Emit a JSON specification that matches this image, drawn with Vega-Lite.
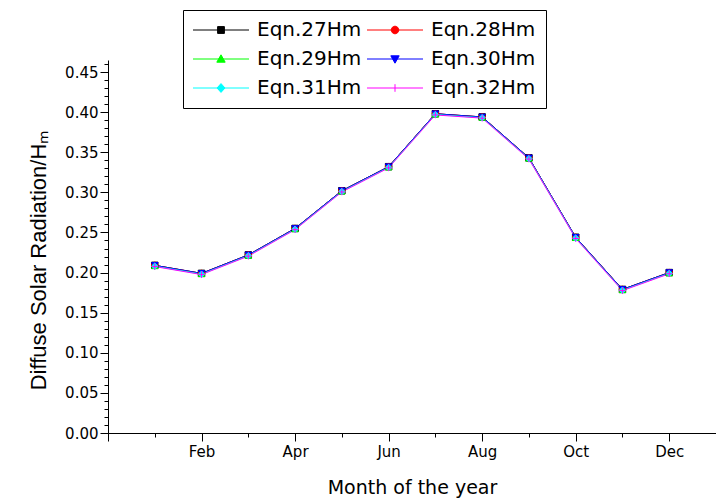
{
  "$schema": "https://vega.github.io/schema/vega-lite/v6.json",
  "width": 608,
  "height": 373,
  "autosize": "none",
  "padding": {"left": 108, "top": 60, "right": 0, "bottom": 67},
  "background": "white",
  "config": {
    "view": {"stroke": null},
    "axis": {
      "grid": false,
      "domainColor": "black",
      "tickColor": "black",
      "labelColor": "black",
      "titleColor": "black",
      "labelFont": "DejaVu Sans",
      "titleFont": "DejaVu Sans",
      "titleFontWeight": "normal",
      "domainWidth": 1,
      "tickWidth": 1
    }
  },
  "data": {
    "values": [
      {"month": 1, "name": "Jan", "series": "Eqn.27Hm", "value": 0.209},
      {"month": 2, "name": "Feb", "series": "Eqn.27Hm", "value": 0.199},
      {"month": 3, "name": "Mar", "series": "Eqn.27Hm", "value": 0.222},
      {"month": 4, "name": "Apr", "series": "Eqn.27Hm", "value": 0.255},
      {"month": 5, "name": "May", "series": "Eqn.27Hm", "value": 0.302},
      {"month": 6, "name": "Jun", "series": "Eqn.27Hm", "value": 0.332},
      {"month": 7, "name": "Jul", "series": "Eqn.27Hm", "value": 0.398},
      {"month": 8, "name": "Aug", "series": "Eqn.27Hm", "value": 0.394},
      {"month": 9, "name": "Sep", "series": "Eqn.27Hm", "value": 0.343},
      {"month": 10, "name": "Oct", "series": "Eqn.27Hm", "value": 0.244},
      {"month": 11, "name": "Nov", "series": "Eqn.27Hm", "value": 0.179},
      {"month": 12, "name": "Dec", "series": "Eqn.27Hm", "value": 0.200},
      {"month": 1, "name": "Jan", "series": "Eqn.28Hm", "value": 0.209},
      {"month": 2, "name": "Feb", "series": "Eqn.28Hm", "value": 0.199},
      {"month": 3, "name": "Mar", "series": "Eqn.28Hm", "value": 0.222},
      {"month": 4, "name": "Apr", "series": "Eqn.28Hm", "value": 0.255},
      {"month": 5, "name": "May", "series": "Eqn.28Hm", "value": 0.302},
      {"month": 6, "name": "Jun", "series": "Eqn.28Hm", "value": 0.332},
      {"month": 7, "name": "Jul", "series": "Eqn.28Hm", "value": 0.398},
      {"month": 8, "name": "Aug", "series": "Eqn.28Hm", "value": 0.394},
      {"month": 9, "name": "Sep", "series": "Eqn.28Hm", "value": 0.343},
      {"month": 10, "name": "Oct", "series": "Eqn.28Hm", "value": 0.244},
      {"month": 11, "name": "Nov", "series": "Eqn.28Hm", "value": 0.179},
      {"month": 12, "name": "Dec", "series": "Eqn.28Hm", "value": 0.200},
      {"month": 1, "name": "Jan", "series": "Eqn.29Hm", "value": 0.2085},
      {"month": 2, "name": "Feb", "series": "Eqn.29Hm", "value": 0.1985},
      {"month": 3, "name": "Mar", "series": "Eqn.29Hm", "value": 0.2215},
      {"month": 4, "name": "Apr", "series": "Eqn.29Hm", "value": 0.2545},
      {"month": 5, "name": "May", "series": "Eqn.29Hm", "value": 0.3015},
      {"month": 6, "name": "Jun", "series": "Eqn.29Hm", "value": 0.3315},
      {"month": 7, "name": "Jul", "series": "Eqn.29Hm", "value": 0.3975},
      {"month": 8, "name": "Aug", "series": "Eqn.29Hm", "value": 0.3935},
      {"month": 9, "name": "Sep", "series": "Eqn.29Hm", "value": 0.3425},
      {"month": 10, "name": "Oct", "series": "Eqn.29Hm", "value": 0.2435},
      {"month": 11, "name": "Nov", "series": "Eqn.29Hm", "value": 0.1785},
      {"month": 12, "name": "Dec", "series": "Eqn.29Hm", "value": 0.1995},
      {"month": 1, "name": "Jan", "series": "Eqn.30Hm", "value": 0.209},
      {"month": 2, "name": "Feb", "series": "Eqn.30Hm", "value": 0.199},
      {"month": 3, "name": "Mar", "series": "Eqn.30Hm", "value": 0.222},
      {"month": 4, "name": "Apr", "series": "Eqn.30Hm", "value": 0.255},
      {"month": 5, "name": "May", "series": "Eqn.30Hm", "value": 0.302},
      {"month": 6, "name": "Jun", "series": "Eqn.30Hm", "value": 0.332},
      {"month": 7, "name": "Jul", "series": "Eqn.30Hm", "value": 0.398},
      {"month": 8, "name": "Aug", "series": "Eqn.30Hm", "value": 0.394},
      {"month": 9, "name": "Sep", "series": "Eqn.30Hm", "value": 0.343},
      {"month": 10, "name": "Oct", "series": "Eqn.30Hm", "value": 0.244},
      {"month": 11, "name": "Nov", "series": "Eqn.30Hm", "value": 0.179},
      {"month": 12, "name": "Dec", "series": "Eqn.30Hm", "value": 0.200},
      {"month": 1, "name": "Jan", "series": "Eqn.31Hm", "value": 0.208},
      {"month": 2, "name": "Feb", "series": "Eqn.31Hm", "value": 0.198},
      {"month": 3, "name": "Mar", "series": "Eqn.31Hm", "value": 0.221},
      {"month": 4, "name": "Apr", "series": "Eqn.31Hm", "value": 0.254},
      {"month": 5, "name": "May", "series": "Eqn.31Hm", "value": 0.301},
      {"month": 6, "name": "Jun", "series": "Eqn.31Hm", "value": 0.331},
      {"month": 7, "name": "Jul", "series": "Eqn.31Hm", "value": 0.397},
      {"month": 8, "name": "Aug", "series": "Eqn.31Hm", "value": 0.393},
      {"month": 9, "name": "Sep", "series": "Eqn.31Hm", "value": 0.342},
      {"month": 10, "name": "Oct", "series": "Eqn.31Hm", "value": 0.243},
      {"month": 11, "name": "Nov", "series": "Eqn.31Hm", "value": 0.178},
      {"month": 12, "name": "Dec", "series": "Eqn.31Hm", "value": 0.199},
      {"month": 1, "name": "Jan", "series": "Eqn.32Hm", "value": 0.2075},
      {"month": 2, "name": "Feb", "series": "Eqn.32Hm", "value": 0.1975},
      {"month": 3, "name": "Mar", "series": "Eqn.32Hm", "value": 0.2205},
      {"month": 4, "name": "Apr", "series": "Eqn.32Hm", "value": 0.2535},
      {"month": 5, "name": "May", "series": "Eqn.32Hm", "value": 0.3005},
      {"month": 6, "name": "Jun", "series": "Eqn.32Hm", "value": 0.3305},
      {"month": 7, "name": "Jul", "series": "Eqn.32Hm", "value": 0.3965},
      {"month": 8, "name": "Aug", "series": "Eqn.32Hm", "value": 0.3925},
      {"month": 9, "name": "Sep", "series": "Eqn.32Hm", "value": 0.3415},
      {"month": 10, "name": "Oct", "series": "Eqn.32Hm", "value": 0.2425},
      {"month": 11, "name": "Nov", "series": "Eqn.32Hm", "value": 0.1775},
      {"month": 12, "name": "Dec", "series": "Eqn.32Hm", "value": 0.1985}
    ]
  },
  "layer": [
    {
      "mark": {"type": "line", "strokeWidth": 1, "clip": false},
      "encoding": {
        "x": {
          "field": "month",
          "type": "quantitative",
          "scale": {"domain": [0, 13], "nice": false, "zero": false},
          "axis": {
            "orient": "bottom",
            "values": [0, 2, 4, 6, 8, 10, 12],
            "tickSize": 8,
            "labelExpr": "['','Jan','Feb','Mar','Apr','May','Jun','Jul','Aug','Sep','Oct','Nov','Dec'][datum.value]",
            "labelFontSize": 15,
            "labelPadding": 3,
            "labelFlush": false,
            "labelOverlap": false,
            "title": "Month of the year",
            "titleFontSize": 19,
            "titlePadding": 19
          }
        },
        "y": {
          "field": "value",
          "type": "quantitative",
          "scale": {"domain": [0, 0.465], "nice": false, "zero": false},
          "axis": {
            "orient": "left",
            "values": [0, 0.05, 0.1, 0.15, 0.2, 0.25, 0.3, 0.35, 0.4, 0.45],
            "format": ".2f",
            "tickSize": 8,
            "labelFontSize": 15,
            "labelPadding": 2,
            "labelFlush": false,
            "labelOverlap": false,
            "title": "Diffuse Solar Radiation/Hₘ",
            "titleFont": "Liberation Sans",
            "titleFontSize": 22,
            "titlePadding": 14,
            "titleY": 200
          }
        },
        "color": {
          "field": "series",
          "type": "nominal",
          "scale": {
            "domain": ["Eqn.27Hm", "Eqn.28Hm", "Eqn.29Hm", "Eqn.30Hm", "Eqn.31Hm", "Eqn.32Hm"],
            "range": ["#000000", "#ff0000", "#00ff00", "#0000ff", "#00ffff", "#ff00ff"]
          },
          "legend": {
            "orient": "none",
            "direction": "horizontal",
            "legendX": 75,
            "legendY": -50,
            "columns": 2,
            "title": null,
            "strokeColor": "black",
            "fillColor": "white",
            "padding": 10,
            "symbolSize": 64,
            "symbolStrokeWidth": 1,
            "symbolOpacity": 1,
            "symbolOffset": 18,
            "labelOffset": 26,
            "columnPadding": 3,
            "rowPadding": 9,
            "labelFont": "DejaVu Sans",
            "labelFontSize": 20,
            "labelColor": "black",
            "labelExpr": "datum.label + '  '",
            "symbolType": {"expr": "['M-7,0H7M-0.85,-0.85H0.85V0.85H-0.85Z','M-7,0H7M0.95,0A0.95,0.95,0,1,1,-0.95,0A0.95,0.95,0,1,1,0.95,0Z','M-7,0H7M0,-1.05L1.05,0.8H-1.05Z','M-7,0H7M0,1.05L1.05,-0.8H-1.05Z','M-7,0H7M0,-1.1L1,0L0,1.1L-1,0Z','M-7,0H7M0,-0.95V0.95'][indexof(['Eqn.27Hm','Eqn.28Hm','Eqn.29Hm','Eqn.30Hm','Eqn.31Hm','Eqn.32Hm'], datum.value)]"},
            "symbolFillColor": {"expr": "scale('color', datum.value)"},
            "symbolStrokeColor": {"expr": "scale('color', datum.value)"}
          }
        }
      }
    },
    {
      "mark": {"type": "point", "filled": true, "size": 42, "strokeWidth": 1, "opacity": 1, "clip": false},
      "encoding": {
        "x": {
          "field": "month",
          "type": "quantitative",
          "scale": {"domain": [0, 13], "nice": false, "zero": false},
          "axis": {
            "orient": "bottom",
            "values": [1, 3, 5, 7, 9, 11, 13],
            "tickSize": 4,
            "labels": false,
            "domain": false,
            "title": null
          }
        },
        "y": {
          "field": "value",
          "type": "quantitative",
          "scale": {"domain": [0, 0.465], "nice": false, "zero": false},
          "axis": {
            "orient": "left",
            "values": [0, 0.01, 0.02, 0.03, 0.04, 0.05, 0.06, 0.07, 0.08, 0.09, 0.1, 0.11, 0.12, 0.13, 0.14, 0.15, 0.16, 0.17, 0.18, 0.19, 0.2, 0.21, 0.22, 0.23, 0.24, 0.25, 0.26, 0.27, 0.28, 0.29, 0.3, 0.31, 0.32, 0.33, 0.34, 0.35, 0.36, 0.37, 0.38, 0.39, 0.4, 0.41, 0.42, 0.43, 0.44, 0.45, 0.46],
            "tickSize": 4,
            "labels": false,
            "domain": false,
            "title": null
          }
        },
        "fill": {
          "field": "series",
          "type": "nominal",
          "scale": {"range": ["#000000", "#ff0000", "#00ff00", "#0000ff", "#00ffff", "#ff00ff"]},
          "legend": null
        },
        "stroke": {
          "field": "series",
          "type": "nominal",
          "scale": {"range": ["#000000", "#ff0000", "#00ff00", "#0000ff", "#00ffff", "#ff00ff"]},
          "legend": null
        },
        "shape": {
          "field": "series",
          "type": "nominal",
          "scale": {"range": ["square", "circle", "triangle-up", "triangle-down", "diamond", "M-1,0H1M0,-1V1"]},
          "legend": null
        }
      }
    }
  ],
  "resolve": {"axis": {"x": "independent", "y": "independent"}}
}
